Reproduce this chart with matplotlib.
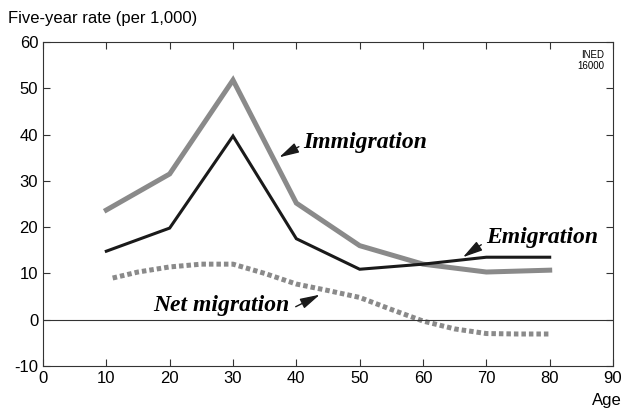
import matplotlib
matplotlib.use("Agg")
import matplotlib.pyplot as plt

ages = [10, 20, 30, 40, 50, 60, 70, 80]
immigration = [23.7, 31.5, 51.8, 25.2, 16.0, 12.0, 10.3, 10.7]
emigration = [14.8, 19.8, 39.7, 17.5, 10.9, 12.0, 13.5, 13.5]
net_ages = [11, 15, 20, 25, 30, 35, 40, 45, 50, 55, 60, 65, 70, 75, 80]
net_migration = [9.0, 10.3, 11.4, 12.0, 12.0, 10.0, 7.7, 6.3, 4.8, 2.2, -0.3, -2.0, -3.0, -3.1, -3.1]

plt.rcParams['font.family'] = ['Liberation Sans', 'DejaVu Sans']
plt.rcParams['axes.unicode_minus'] = False

fig = plt.figure(figsize=(6.23, 4.13), dpi=100)
ax = fig.add_axes([0.069, 0.114, 0.915, 0.784])

ax.plot(ages, immigration, color='#8a8a8a', linewidth=3.6, solid_joinstyle='miter')
ax.plot(ages, emigration, color='#1a1a1a', linewidth=2.2, solid_joinstyle='miter')
ax.plot(net_ages, net_migration, color='#8a8a8a', linewidth=3.6,
        linestyle=(0, (0.9, 0.6)), dash_capstyle='butt')
ax.axhline(0, color='#333333', linewidth=0.8)

ax.set_xlim(0, 90)
ax.set_ylim(-10, 60)
ax.set_xticks(range(0, 91, 10))
ax.set_yticks(range(-10, 61, 10))
ax.tick_params(direction='in', top=True, right=True, labelsize=12, length=5,
               color='#333333', width=0.8)
ax.tick_params(axis='x', pad=4)
for s in ax.spines.values():
    s.set_color('#333333')
    s.set_linewidth(0.8)

fig.text(0.013, 0.955, "Five-year rate (per 1,000)", fontsize=12, va='center')
fig.text(0.998, 0.03, "Age", fontsize=12, ha='right', va='center')
ax.text(0.985, 0.975, "INED\n16000", transform=ax.transAxes, fontsize=7,
        ha='right', va='top', linespacing=1.1)

# curve labels and little dart arrows
lab = dict(family='Liberation Serif', fontsize=17, fontweight='bold',
           fontstyle='italic', va='center')
arr = dict(arrowstyle='-|>,head_length=1.2,head_width=0.32', color='#1a1a1a',
           linewidth=1.0, shrinkA=0, shrinkB=0)
ax.text(41.1, 38.4, "Immigration", ha='left', **lab)
ax.annotate("", xy=(37.3, 35.1), xytext=(40.4, 37.4), arrowprops=arr)
ax.text(69.9, 17.7, "Emigration", ha='left', **lab)
ax.annotate("", xy=(66.3, 13.5), xytext=(69.2, 16.2), arrowprops=arr)
ax.text(38.9, 3.0, "Net migration", ha='right', **lab)
ax.annotate("", xy=(43.7, 5.4), xytext=(39.9, 2.8), arrowprops=arr)

fig.savefig("out.png", dpi=100)
